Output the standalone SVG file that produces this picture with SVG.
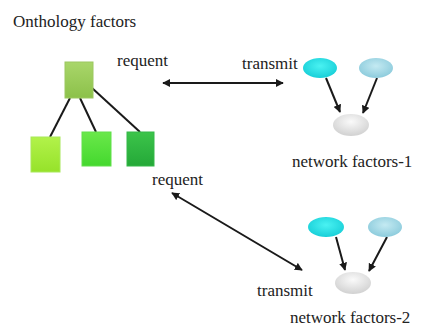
<svg xmlns="http://www.w3.org/2000/svg" width="424" height="331" viewBox="0 0 424 331">
<style>
text{font-family:"Liberation Serif","Times New Roman",serif;font-size:17px;fill:#222}
.c{stroke:#1a1a1a;stroke-width:2;fill:none}
.a{marker-end:url(#ah)}
.b{marker-start:url(#ahs);marker-end:url(#ah)}
</style>
<defs>
<marker id="ah" viewBox="0 0 10 10" refX="9" refY="5" markerWidth="4" markerHeight="4" orient="auto"><path d="M0,0L10,5L0,10z" fill="#1a1a1a"/></marker>
<marker id="ahs" viewBox="0 0 10 10" refX="1" refY="5" markerWidth="4" markerHeight="4" orient="auto"><path d="M10,0L0,5L10,10z" fill="#1a1a1a"/></marker>
<linearGradient id="g0" x1="0" y1="0" x2="0" y2="1"><stop offset="0" stop-color="#a9d66a"/><stop offset="1" stop-color="#8cc14a"/></linearGradient>
<linearGradient id="g1" x1="0" y1="0" x2="0" y2="1"><stop offset="0" stop-color="#b2f24a"/><stop offset="1" stop-color="#96e22a"/></linearGradient>
<linearGradient id="g2" x1="0" y1="0" x2="0" y2="1"><stop offset="0" stop-color="#6ae84a"/><stop offset="1" stop-color="#44d82e"/></linearGradient>
<linearGradient id="g3" x1="0" y1="0" x2="0" y2="1"><stop offset="0" stop-color="#3cc44a"/><stop offset="1" stop-color="#24a838"/></linearGradient>
<radialGradient id="cy" cx="0.5" cy="0.4" r="0.6"><stop offset="0" stop-color="#4af2f2"/><stop offset="1" stop-color="#18cfd8"/></radialGradient>
<radialGradient id="lb" cx="0.5" cy="0.4" r="0.6"><stop offset="0" stop-color="#c4eaf2"/><stop offset="1" stop-color="#8ccbdc"/></radialGradient>
<radialGradient id="wh" cx="0.5" cy="0.35" r="0.6"><stop offset="0" stop-color="#fafafa"/><stop offset="1" stop-color="#d4d4d4"/></radialGradient>
</defs>
<text x="13" y="27">Onthology factors</text>
<g id="connectors">
<line class="c" x1="70" y1="98" x2="50" y2="137"/>
<line class="c" x1="80" y1="98" x2="96" y2="132"/>
<line class="c" x1="92" y1="88" x2="140" y2="132"/>
<line class="c b" x1="163" y1="83" x2="283" y2="83"/>
<line class="c b" x1="172" y1="193" x2="302" y2="270"/>
<line class="c a" x1="326" y1="78" x2="340" y2="112"/>
<line class="c a" x1="377" y1="78" x2="363" y2="113"/>
<line class="c a" x1="336" y1="237" x2="345" y2="270"/>
<line class="c a" x1="387" y1="237" x2="369" y2="271"/>
</g>
<g id="onto-root"><rect x="65" y="62" width="28" height="36" fill="url(#g0)" stroke="#9cc860" stroke-width="1"/></g>
<g id="onto-1"><rect x="31" y="137" width="29" height="35" fill="url(#g1)" stroke="#a8e85a" stroke-width="1"/></g>
<g id="onto-2"><rect x="82" y="132" width="29" height="34" fill="url(#g2)" stroke="#60e04a" stroke-width="1"/></g>
<g id="onto-3"><rect x="127" y="132" width="27" height="34" fill="url(#g3)" stroke="#34b848" stroke-width="1"/></g>
<g id="n1-a"><ellipse cx="320" cy="68" rx="17" ry="10" fill="url(#cy)"/></g>
<g id="n1-b"><ellipse cx="376" cy="68" rx="17" ry="10" fill="url(#lb)"/></g>
<g id="n1-c"><ellipse cx="351" cy="125" rx="18" ry="11" fill="url(#wh)"/></g>
<g id="n2-a"><ellipse cx="326" cy="227" rx="18" ry="10" fill="url(#cy)"/></g>
<g id="n2-b"><ellipse cx="385" cy="227" rx="17" ry="10" fill="url(#lb)"/></g>
<g id="n2-c"><ellipse cx="353" cy="283" rx="18" ry="11" fill="url(#wh)"/></g>
<g id="labels">
<text x="117" y="66">requent</text>
<text x="242" y="69">transmit</text>
<text x="292" y="167">network factors-1</text>
<text x="152" y="185">requent</text>
<text x="257" y="296">transmit</text>
<text x="290" y="323">network factors-2</text>
</g>
</svg>
